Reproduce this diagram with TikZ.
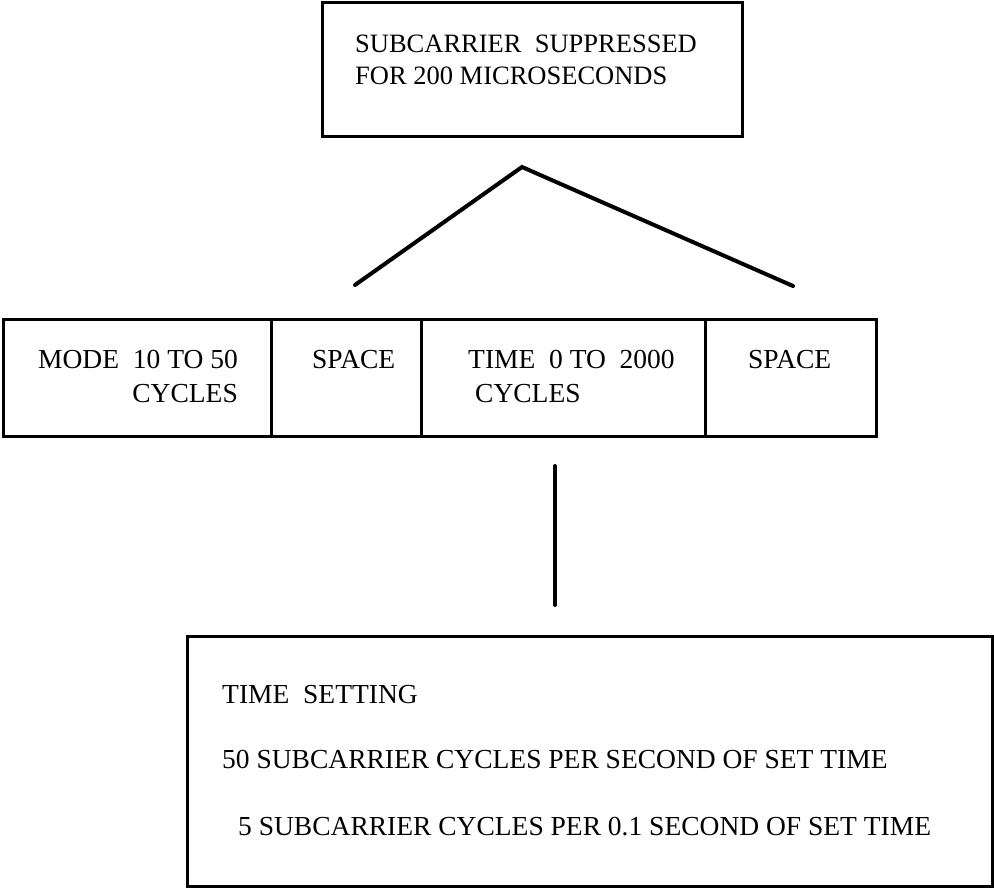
\documentclass[tikz,border=0pt]{standalone}
\usepackage{fontspec}
\setmainfont{Liberation Serif}
\begin{document}
\begin{tikzpicture}[x=1pt,y=-1pt,
  box/.style={draw, line width=3pt, rectangle, inner sep=0pt},
  lbl/.style={anchor=base west, inner sep=0pt, font=\fontsize{27.5}{33}\selectfont},
  lbltop/.style={lbl, font=\fontsize{26.5}{32}\selectfont},
  lblr/.style={lbl, anchor=base east},
  wire/.style={line width=4pt, line cap=round, line join=miter}]
\useasboundingbox (0,0) rectangle (994,889);
% boxes
\node[box, minimum width=420pt, minimum height=134pt] (topbox) at (532,69) {};
\node[box, minimum width=268pt, minimum height=117pt] (mode) at (137,377.5) {};
\node[box, minimum width=150pt, minimum height=117pt] (space1) at (346,377.5) {};
\node[box, minimum width=284pt, minimum height=117pt] (time) at (563,377.5) {};
\node[box, minimum width=171pt, minimum height=117pt] (space2) at (790.5,377.5) {};
\node[box, minimum width=805pt, minimum height=250pt] (setting) at (589.5,761) {};
% texts
\node[lbltop] (t1) at (355,52) {SUBCARRIER~ SUPPRESSED};
\node[lbltop] (t2) at (355,84) {FOR 200 MICROSECONDS};
\node[lblr] (m1) at (238,368) {MODE~ 10 TO 50};
\node[lblr] (m2) at (238,402) {CYCLES};
\node[lbl] (s1) at (312,368) {SPACE};
\node[lbl] (tm1) at (468,368) {TIME~ 0 TO~ 2000};
\node[lbl] (tm2) at (475,402) {CYCLES};
\node[lbl] (s2) at (748,368) {SPACE};
\node[lbl] (b1) at (222,703) {TIME~ SETTING};
\node[lbl] (b2) at (222,768) {50 SUBCARRIER CYCLES PER SECOND OF SET TIME};
\node[lbl] (b3) at (238,835) {5 SUBCARRIER CYCLES PER 0.1 SECOND OF SET TIME};
% connectors
\coordinate (apex) at (522,167);
\coordinate (leftend) at (355,285);
\coordinate (rightend) at (793,286);
\coordinate (vtop) at (555,466);
\coordinate (vbot) at (555,605);
\draw[wire] (leftend) -- (apex) -- (rightend);
\draw[wire] (vtop) -- (vbot);
\end{tikzpicture}
\end{document}
